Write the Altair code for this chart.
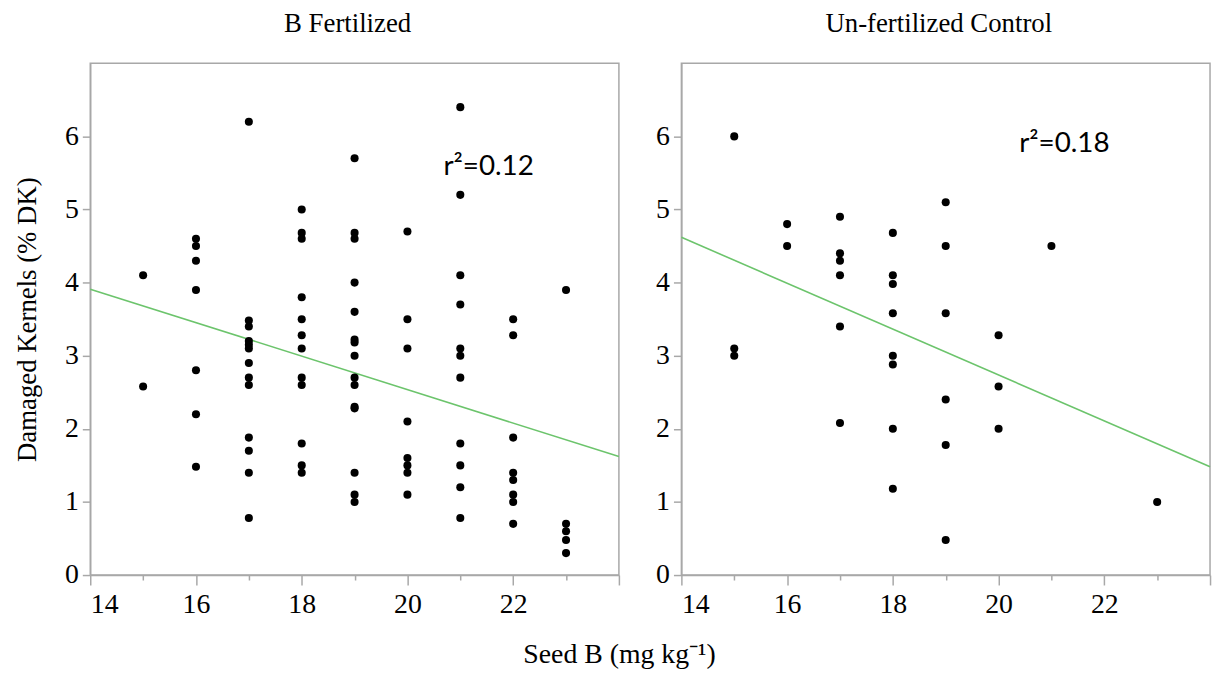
import altair as alt
import pandas as pd

# ---------------- data ----------------
# B Fertilized panel
bf_seed = ([15] * 2 + [16] * 7 + [17] * 13 + [18] * 12 + [19] * 15 +
           [20] * 8 + [21] * 11 + [22] * 8 + [23] * 5)
bf_dk = [4.1, 2.58,
         4.6, 4.5, 4.3, 3.9, 2.8, 2.2, 1.48,
         6.2, 3.48, 3.4, 3.2, 3.15, 3.1, 2.9, 2.7, 2.6, 1.88, 1.7, 1.4, 0.78,
         5.0, 4.68, 4.6, 3.8, 3.5, 3.28, 3.1, 2.7, 2.6, 1.8, 1.5, 1.4,
         5.7, 4.68, 4.6, 4.0, 3.6, 3.22, 3.18, 3.0, 2.7, 2.6, 2.3, 2.28, 1.4, 1.1, 1.0,
         4.7, 3.5, 3.1, 2.1, 1.6, 1.5, 1.4, 1.1,
         6.4, 5.2, 4.1, 3.7, 3.1, 3.0, 2.7, 1.8, 1.5, 1.2, 0.78,
         3.5, 3.28, 1.88, 1.4, 1.3, 1.1, 1.0, 0.7,
         3.9, 0.7, 0.6, 0.48, 0.3]

# Un-fertilized Control panel
uc_seed = ([15] * 3 + [16] * 2 + [17] * 6 + [18] * 8 + [19] * 6 +
           [20] * 3 + [21] * 1 + [23] * 1)
uc_dk = [6.0, 3.1, 3.0,
         4.8, 4.5,
         4.9, 4.4, 4.3, 4.1, 3.4, 2.08,
         4.68, 4.1, 3.98, 3.58, 3.0, 2.88, 2.0, 1.18,
         5.1, 4.5, 3.58, 2.4, 1.78, 0.48,
         3.28, 2.58, 2.0,
         4.5,
         1.0]

# regression line end points
bf_line_seed = [14, 24]
bf_line_dk = [3.91, 1.62]
uc_line_seed = [14, 24]
uc_line_dk = [4.62, 1.48]

# r² annotations
bf_r2_text = ["r²=0.12"]
bf_r2_seed = [20.68]
bf_r2_dk = [5.58]
uc_r2_text = ["r²=0.18"]
uc_r2_seed = [20.39]
uc_r2_dk = [5.89]

panel_titles = ["B Fertilized", "Un-fertilized Control"]
x_ticks = list(range(14, 25))
y_ticks = list(range(0, 7))

SERIF = "Liberation Serif"
GRAY = "#a8a8a8"
GREEN = "#6cc46c"


def panel(seed, dk, lseed, ldk, tseed, tdk, ttext, title, ytitle):
    pts = pd.DataFrame({"seed": seed, "dk": dk})
    ln = pd.DataFrame({"seed": lseed, "dk": ldk})
    ann = pd.DataFrame({"seed": tseed, "dk": tdk, "t": ttext})

    x_enc = alt.X(
        "seed:Q",
        scale=alt.Scale(domain=[14, 24], nice=False, zero=False),
        axis=alt.Axis(
            values=x_ticks,
            labelExpr="datum.value % 2 == 0 && datum.value < 24 ? datum.label : ''",
            tickSize={"condition": {"test": "datum.value % 2 == 0", "value": 10}, "value": 5},
            grid=False,
            labelPadding=6,
        ),
        title=None,
    )
    y_axis = dict(values=y_ticks, tickSize=8, grid=False, labelPadding=4)
    if ytitle:
        y_axis["titlePadding"] = 23
    y_enc = alt.Y(
        "dk:Q",
        scale=alt.Scale(domain=[0, 7], nice=False, zero=True),
        axis=alt.Axis(**y_axis),
        title=ytitle if ytitle else None,
    )

    points = alt.Chart(pts).mark_circle(size=66, color="black", opacity=1).encode(x=x_enc, y=y_enc)
    line = alt.Chart(ln).mark_line(color=GREEN, strokeWidth=1.6).encode(x=x_enc, y=y_enc)
    text = alt.Chart(ann).mark_text(
        align="left", baseline="middle", font="Lato", fontSize=28, color="black"
    ).encode(x=x_enc, y=y_enc, text="t:N")

    return alt.layer(line, points, text).properties(
        width=533,
        height=516,
        title=alt.TitleParams(
            title, font=SERIF, fontSize=27, fontWeight="normal", color="black",
            offset=26, dx=-7,
        ),
    )


left = panel(bf_seed, bf_dk, bf_line_seed, bf_line_dk, bf_r2_seed, bf_r2_dk,
             bf_r2_text, panel_titles[0], "Damaged Kernels (% DK)")
right = panel(uc_seed, uc_dk, uc_line_seed, uc_line_dk, uc_r2_seed, uc_r2_dk,
              uc_r2_text, panel_titles[1], None)

chart = alt.hconcat(left, right, spacing=32).properties(
    title=alt.TitleParams(
        "Seed B (mg kg⁻¹)", orient="bottom", anchor="middle", font=SERIF,
        fontSize=28, fontWeight="normal", color="black", offset=22, dx=6,
    ),
    padding={"left": 13, "top": 6, "right": 0, "bottom": 5},
    background="white",
).configure_view(
    stroke=GRAY, strokeWidth=1.5
).configure_axis(
    domainColor=GRAY, tickColor=GRAY, domainWidth=1.5, tickWidth=1.5,
    labelFont=SERIF, labelFontSize=28, labelColor="black",
    titleFont=SERIF, titleFontSize=27, titleFontWeight="normal", titleColor="black",
)

chart.save("out.html", embed_options={"renderer": "svg", "actions": False})
